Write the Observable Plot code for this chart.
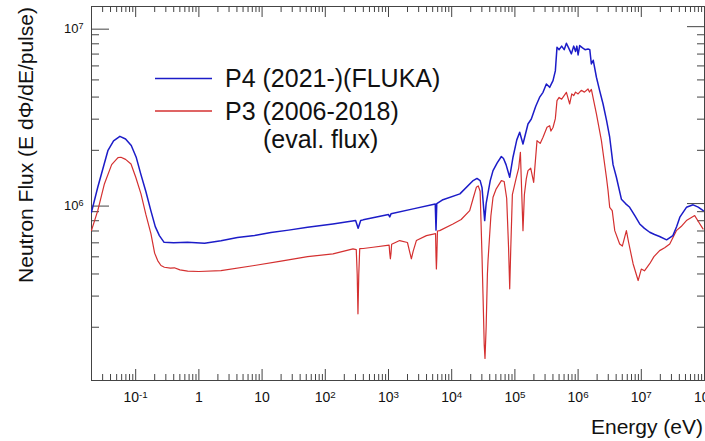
<!DOCTYPE html>
<html><head><meta charset="utf-8">
<script src="https://cdn.jsdelivr.net/npm/d3@7"></script>
<script src="https://cdn.jsdelivr.net/npm/@observablehq/plot@0.6"></script>
<style>body{margin:0;background:#fff} svg{display:block}</style>
</head><body><div id="chart"></div>
<script>
// Series names and axis titles
const seriesNames = ["P4 (2021-)(FLUKA)", "P3 (2006-2018)"];
const seriesNote = "(eval. flux)";
const xTitle = "Energy (eV)";
const yTitle = "Neutron Flux (E d\u03A6/dE/pulse)";

// P4 (FLUKA): log10(E / eV) and log10(flux)
const p4LogE = [-1.70,-1.60,-1.44,-1.35,-1.25,-1.16,-1.07,-0.99,-0.92,-0.84,-0.76,-0.69,-0.625,-0.55,-0.40,-0.18,0.09,0.35,0.61,0.88,1.14,1.42,1.72,2.12,2.48,2.52,2.56,2.60,3.00,3.02,3.04,3.39,3.74,3.752,3.764,3.85,4.13,4.34,4.40,4.45,4.48,4.50,4.522,4.545,4.57,4.61,4.654,4.72,4.786,4.82,4.86,4.918,4.97,5.03,5.076,5.128,5.207,5.26,5.33,5.39,5.445,5.498,5.55,5.603,5.64,5.666,5.70,5.74,5.78,5.815,5.85,5.894,5.93,5.96,5.98,6.00,6.025,6.07,6.11,6.157,6.185,6.21,6.24,6.29,6.34,6.395,6.45,6.50,6.553,6.606,6.685,6.75,6.816,6.90,6.975,7.05,7.133,7.21,7.29,7.40,7.50,7.56,7.61,7.714,7.82,7.90,7.98];
const p4LogFlux = [5.951,6.092,6.299,6.355,6.380,6.365,6.328,6.26,6.168,6.07,5.960,5.87,5.819,5.781,5.778,5.781,5.776,5.79,5.808,5.82,5.836,5.85,5.866,5.885,5.904,5.86,5.904,5.908,5.938,5.925,5.942,5.970,5.998,5.85,6.0,6.02,6.055,6.13,6.142,6.13,6.09,6.00,5.904,6.00,6.05,6.13,6.186,6.23,6.266,6.255,6.22,6.149,6.262,6.36,6.403,6.337,6.450,6.478,6.55,6.60,6.629,6.676,6.657,6.695,6.75,6.883,6.87,6.89,6.87,6.906,6.88,6.846,6.89,6.86,6.89,6.84,6.893,6.88,6.87,6.874,6.87,6.789,6.81,6.714,6.64,6.563,6.47,6.375,6.22,6.149,6.025,6.0,5.979,5.93,5.885,5.86,5.838,5.825,5.814,5.795,5.819,5.87,5.923,5.979,5.993,5.98,5.960];

// P3 (evaluated flux)
const p3LogE = [-1.70,-1.60,-1.495,-1.38,-1.28,-1.233,-1.16,-1.074,-1.0,-0.916,-0.84,-0.758,-0.70,-0.652,-0.60,-0.546,-0.45,-0.388,-0.30,-0.177,0.0,0.35,0.878,1.3,1.72,2.122,2.438,2.49,2.505,2.517,2.53,2.545,2.60,2.755,3.01,3.02,3.03,3.04,3.05,3.177,3.30,3.34,3.362,3.39,3.441,3.60,3.745,3.752,3.758,3.765,3.775,3.81,4.02,4.15,4.285,4.34,4.39,4.42,4.45,4.48,4.495,4.515,4.527,4.545,4.565,4.575,4.62,4.654,4.70,4.786,4.83,4.87,4.90,4.918,4.935,4.96,5.024,5.06,5.087,5.10,5.128,5.15,5.18,5.207,5.25,5.297,5.35,5.40,5.445,5.508,5.55,5.57,5.603,5.64,5.666,5.70,5.74,5.815,5.867,5.90,5.93,5.96,6.0,6.05,6.10,6.157,6.18,6.21,6.29,6.369,6.448,6.474,6.50,6.54,6.58,6.658,6.70,6.73,6.764,6.80,6.87,6.95,7.0,7.05,7.133,7.20,7.29,7.37,7.45,7.555,7.63,7.714,7.845,7.90,7.976];
const p3LogFlux = [5.847,5.96,6.111,6.22,6.26,6.262,6.25,6.224,6.15,6.055,5.94,5.829,5.72,5.678,5.65,5.640,5.635,5.637,5.625,5.618,5.616,5.621,5.650,5.675,5.70,5.716,5.744,5.74,5.60,5.377,5.60,5.745,5.746,5.753,5.765,5.72,5.688,5.72,5.77,5.791,5.78,5.72,5.688,5.73,5.791,5.819,5.830,5.7,5.631,5.7,5.845,5.847,5.885,5.91,5.960,6.03,6.092,6.10,6.07,5.70,5.49,5.2,5.125,5.3,5.6,5.678,5.93,6.036,6.08,6.130,6.125,6.03,5.75,5.518,5.75,6.05,6.149,6.20,6.29,6.15,5.847,6.05,6.14,6.186,6.20,6.12,6.356,6.34,6.375,6.431,6.44,6.41,6.43,6.48,6.582,6.60,6.59,6.629,6.563,6.62,6.61,6.63,6.62,6.64,6.63,6.648,6.63,6.645,6.507,6.356,6.149,6.073,5.979,5.96,5.847,5.772,5.76,5.80,5.847,5.78,5.66,5.565,5.63,5.62,5.66,5.70,5.734,5.75,5.772,5.847,5.87,5.904,5.932,5.90,5.857];

// Axes
const xDomain = [0.02, 1e8];
const yDomain = [1e5, 1.3e7];
const xDecades = [1e-1, 1, 10, 1e2, 1e3, 1e4, 1e5, 1e6, 1e7, 1e8];
const xTickLabels = ["10^-1", "1", "10", "10^2", "10^3", "10^4", "10^5", "10^6", "10^7", "10^8"];
const yDecades = [1e6, 1e7];
const yTickLabels = ["10^6", "10^7"];
const minorOf = (lo, hi) => {
  const out = [];
  for (let d = 1e-2; d < hi; d *= 10) for (let k = 2; k <= 9; k++) { const v = +(k * d).toPrecision(3); if (v > lo && v < hi) out.push(v); }
  return out;
};
const xMinor = minorOf(xDomain[0], xDomain[1]);
const yMinor = minorOf(yDomain[0], 1e7).filter(v => v >= 2e5);

const BLUE = "#1c1cc8";
const RED = "#d43030";
const AXIS = "#444";
const FONT = "'Liberation Sans', Arial, Helvetica, sans-serif";

const p4 = p4LogE.map((e, i) => ({E: 10 ** e, F: 10 ** p4LogFlux[i]}));
const p3 = p3LogE.map((e, i) => ({E: 10 ** e, F: 10 ** p3LogFlux[i]}));

const fmtX = d => xTickLabels[xDecades.indexOf(d)];
const fmtY = d => yTickLabels[yDecades.indexOf(d)];
const blank = () => "";

const chart = Plot.plot({
  width: 705, height: 441,
  marginLeft: 91, marginRight: 1, marginTop: 6, marginBottom: 61,
  style: {fontFamily: FONT, fontSize: "14px", background: "#fff", color: AXIS},
  x: {type: "log", domain: xDomain},
  y: {type: "log", domain: yDomain},
  marks: [
    Plot.frame({stroke: AXIS}),
    // bottom
    Plot.axisX(xDecades, {anchor: "bottom", tickSize: -11, tickPadding: 23, tickFormat: fmtX, label: null, stroke: AXIS, fill: "#111", fontSize: 14}),
    Plot.axisX(xMinor, {anchor: "bottom", tickSize: -6, tickFormat: blank, label: null, stroke: AXIS}),
    // top
    Plot.axisX(xDecades, {anchor: "top", tickSize: -10, tickFormat: blank, label: null, stroke: AXIS}),
    Plot.axisX(xMinor, {anchor: "top", tickSize: -5, tickFormat: blank, label: null, stroke: AXIS}),
    // left
    Plot.axisY(yDecades, {anchor: "left", tickSize: -18, tickPadding: 26, tickFormat: fmtY, label: null, stroke: AXIS, fill: "#111", fontSize: 13, dy: 2.5}),
    Plot.axisY(yMinor, {anchor: "left", tickSize: -8, tickFormat: blank, label: null, stroke: AXIS}),
    // right
    Plot.axisY(yDecades, {anchor: "right", tickSize: -18, tickFormat: blank, label: null, stroke: AXIS}),
    Plot.axisY(yMinor, {anchor: "right", tickSize: -8, tickFormat: blank, label: null, stroke: AXIS}),
    Plot.line(p3, {x: "E", y: "F", stroke: RED, strokeWidth: 1.2, clip: true}),
    Plot.line(p4, {x: "E", y: "F", stroke: BLUE, strokeWidth: 1.5, clip: true})
  ]
});
document.getElementById("chart").appendChild(chart);

const svg = d3.select(chart);
// superscripts on tick labels
svg.selectAll("text").each(function () {
  const s = this.textContent;
  if (s.includes("^")) {
    const [b, e] = s.split("^");
    const t = d3.select(this);
    t.text(b);
    t.append("tspan").attr("font-size", "0.7em").attr("dy", "-0.45em").text(e);
  }
});

const ann = svg.append("g").attr("font-family", FONT).attr("fill", "#111").attr("text-anchor", "start");
ann.append("text").attr("transform", "translate(33,145) rotate(-90)").attr("text-anchor", "middle").attr("font-size", 21).text(yTitle);
ann.append("text").attr("x", 703).attr("y", 433.5).attr("text-anchor", "end").attr("font-size", 21).text(xTitle);

// legend
ann.append("line").attr("x1", 155).attr("x2", 212).attr("y1", 78.5).attr("y2", 78.5).attr("stroke", BLUE).attr("stroke-width", 1.5);
ann.append("text").attr("x", 225).attr("y", 86.5).attr("font-size", 25).text(seriesNames[0]);
ann.append("line").attr("x1", 155).attr("x2", 212).attr("y1", 111).attr("y2", 111).attr("stroke", RED).attr("stroke-width", 1.5);
ann.append("text").attr("x", 225).attr("y", 119.5).attr("font-size", 25).text(seriesNames[1]);
ann.append("text").attr("x", 263).attr("y", 148).attr("font-size", 25).text(seriesNote);
</script>
</body></html>
